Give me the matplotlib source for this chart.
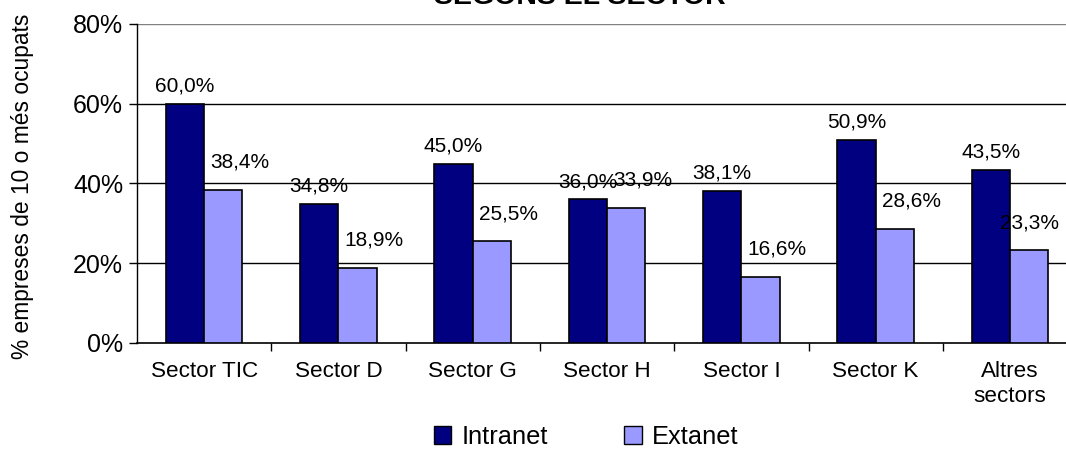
import numpy as np
import matplotlib.pyplot as plt
from matplotlib.patches import Patch

plt.rcParams['font.family'] = ['Liberation Sans', 'DejaVu Sans']

categories = ['Sector TIC', 'Sector D', 'Sector G', 'Sector H', 'Sector I', 'Sector K', 'Altres\nsectors']
intranet = [60.0, 34.8, 45.0, 36.0, 38.1, 50.9, 43.5]
extranet = [38.4, 18.9, 25.5, 33.9, 16.6, 28.6, 23.3]
yticks = [0, 20, 40, 60, 80]

navy = '#000080'
lilac = '#9999FF'

fig = plt.figure(figsize=(10.66, 4.5), dpi=100)
ax = fig.add_axes([0.1285, 0.2378, 0.8715, 0.7089])

x = np.arange(len(categories))
w = 0.285
ax.bar(x - w / 2, intranet, w, color=navy, edgecolor='black', linewidth=1.2, zorder=3)
ax.bar(x + w / 2, extranet, w, color=lilac, edgecolor='black', linewidth=1.2, zorder=3)

def fmt(v):
    return ('%.1f%%' % v).replace('.', ',')

for xi, v in zip(x, intranet):
    ax.annotate(fmt(v), (xi - w / 2, v), xytext=(0, 6), textcoords='offset points',
                ha='center', va='bottom', fontsize=15)
for xi, v in zip(x, extranet):
    # last label is pulled back so it stays inside the chart
    dx = 12 if xi < len(x) - 1 else 0
    ax.annotate(fmt(v), (xi + w / 2, v), xytext=(dx, 13), textcoords='offset points',
                ha='center', va='bottom', fontsize=15)

ax.set_ylim(0, 80)
ax.set_xlim(-0.5, 6.417)
ax.set_yticks(yticks)
ax.set_yticklabels(['%d%%' % t for t in yticks], fontsize=18)
ax.set_xticks(x)
ax.set_xticklabels(categories, fontsize=16.2, linespacing=1.25)
ax.set_xticks(x[:-1] + 0.5, minor=True)
ax.tick_params(axis='x', which='major', length=0, pad=13)
ax.tick_params(axis='x', which='minor', length=6, width=1, direction='out')
ax.tick_params(axis='y', length=6, width=1, direction='out', pad=4)

for t in yticks[1:]:
    ax.axhline(t, color='black' if t < 80 else '#808080', linewidth=1, zorder=1)

ax.spines['top'].set_visible(False)
ax.spines['right'].set_visible(False)
ax.spines['left'].set_linewidth(1)
ax.spines['bottom'].set_linewidth(1.2)

fig.text(0.021, 0.585, '% empreses de 10 o més ocupats', rotation=90,
         ha='center', va='center', fontsize=16.4)

# title sits mostly above the top edge, as in the original
fig.text(0.544, 1 - 4 / 450, 'SEGONS EL SECTOR', ha='center', va='baseline',
         fontsize=20.5, fontweight='bold')

handles = [Patch(facecolor=navy, edgecolor='black', label='Intranet'),
           Patch(facecolor=lilac, edgecolor='black', label='Extanet')]
fig.legend(handles=handles, loc='center', bbox_to_anchor=(0.55, 0.03), ncol=2,
           frameon=False, fontsize=18.3, handlelength=0.7, handleheight=0.7,
           handletextpad=0.4, columnspacing=3.0)

fig.savefig('out.png', dpi=100)
